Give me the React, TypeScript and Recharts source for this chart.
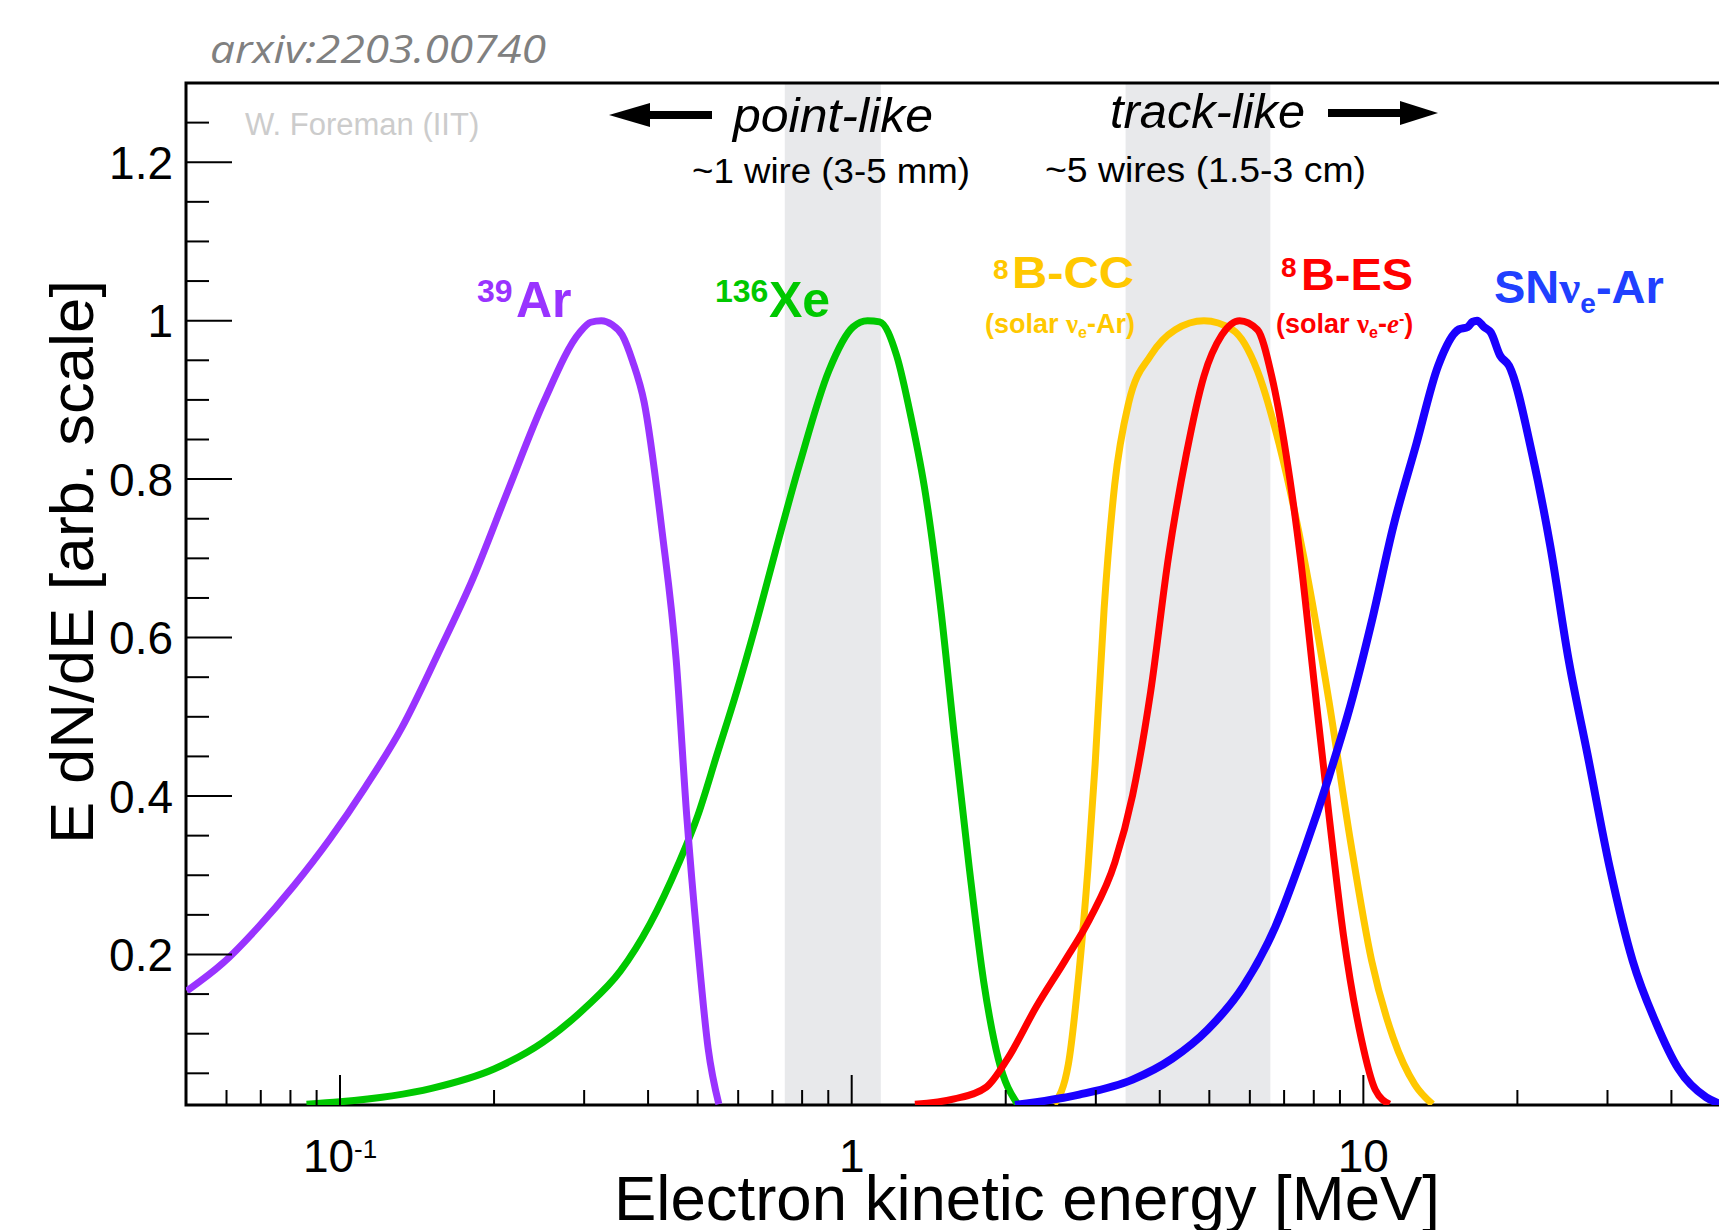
import React from "react";
import { LineChart, Line, XAxis, YAxis, ReferenceArea } from "recharts";

const FONT = "'Liberation Sans', Arial, Helvetica, sans-serif";
const W = 1719;
const H = 1230;
const PLOT_LEFT = 186;
const PLOT_BOTTOM = 1105;

// 39Ar beta spectrum
const arEnergy = [0.0502, 0.059, 0.0693, 0.0813, 0.0956, 0.112, 0.132, 0.155, 0.182, 0.213, 0.25, 0.294, 0.309, 0.324, 0.34, 0.356, 0.373, 0.393, 0.426, 0.454, 0.476, 0.5, 0.524, 0.55];
const arValue = [0.154, 0.189, 0.235, 0.287, 0.346, 0.411, 0.486, 0.578, 0.675, 0.786, 0.897, 0.985, 0.998, 1.0, 0.995, 0.982, 0.949, 0.897, 0.734, 0.571, 0.375, 0.212, 0.082, 0.011];

// 136Xe
const xeEnergy = [0.086, 0.1, 0.151, 0.2, 0.249, 0.303, 0.353, 0.403, 0.459, 0.5, 0.546, 0.596, 0.65, 0.709, 0.791, 0.902, 1.006, 1.074, 1.134, 1.224, 1.306, 1.395, 1.489, 1.589, 1.697, 1.811, 1.934, 2.11];
const xeValue = [0.011, 0.014, 0.031, 0.0555, 0.089, 0.134, 0.179, 0.238, 0.315, 0.375, 0.4535, 0.532, 0.617, 0.708, 0.819, 0.9365, 0.992, 1.0, 0.9985, 0.956, 0.878, 0.78, 0.643, 0.473, 0.31, 0.166, 0.0685, 0.011];

// 8B elastic scattering
const esEnergy = [1.329, 1.586, 1.833, 2.017, 2.295, 2.61, 2.92, 3.27, 3.54, 3.84, 4.16, 4.51, 4.88, 5.29, 5.73, 6.21, 6.62, 7.06, 7.53, 8.03, 8.57, 9.14, 9.9, 10.55, 11.25];
const esValue = [0.011, 0.0176, 0.0326, 0.0685, 0.134, 0.192, 0.245, 0.3165, 0.401, 0.532, 0.7015, 0.832, 0.93, 0.982, 1.0, 0.9886, 0.93, 0.832, 0.7015, 0.538, 0.375, 0.225, 0.0946, 0.0293, 0.011];

// 8B charged current
const ccEnergy = [2.487, 2.652, 2.783, 2.897, 2.991, 3.114, 3.266, 3.48, 3.84, 4.29, 4.88, 5.55, 6.21, 6.84, 7.65, 8.57, 9.44, 10.38, 11.44, 12.6, 13.65];
const ccValue = [0.011, 0.062, 0.179, 0.31, 0.4405, 0.636, 0.793, 0.897, 0.956, 0.9886, 1.0, 0.9886, 0.9365, 0.845, 0.7015, 0.519, 0.3425, 0.192, 0.0946, 0.036, 0.011];

// supernova nu_e - Ar
const snEnergy = [2.085, 2.783, 3.54, 4.23, 4.96, 5.83, 6.73, 7.65, 8.57, 9.44, 10.38, 11.44, 12.7, 14.0, 15.37, 16.0, 16.35, 16.68, 17.21, 17.75, 18.5, 19.27, 21.37, 23.2, 25.2, 27.4, 30.3, 33.6, 37.3, 41.3, 46.8, 50];
const snValue = [0.01, 0.023, 0.042, 0.0685, 0.105, 0.16, 0.235, 0.33, 0.425, 0.515, 0.62, 0.74, 0.845, 0.943, 0.989, 0.992, 0.9985, 1.0, 0.992, 0.985, 0.956, 0.943, 0.832, 0.715, 0.571, 0.4535, 0.31, 0.192, 0.114, 0.0555, 0.0196, 0.011];

// shaded regions (MeV)
const pointBand = [0.74, 1.14];
const trackBand = [3.43, 6.58];

const xTicks = [0.06, 0.07, 0.08, 0.09, 0.1, 0.2, 0.3, 0.4, 0.5, 0.6, 0.7, 0.8, 0.9, 1, 2, 3, 4, 5, 6, 7, 8, 9, 10, 20, 30, 40];
const xMajor = [0.1, 1, 10];
const yTicks = [0.05, 0.1, 0.15, 0.2, 0.25, 0.3, 0.35, 0.4, 0.45, 0.5, 0.55, 0.6, 0.65, 0.7, 0.75, 0.8, 0.85, 0.9, 0.95, 1, 1.05, 1.1, 1.15, 1.2, 1.25];
const yMajorLabels: Record<string, string> = { "0.2": "0.2", "0.4": "0.4", "0.6": "0.6", "0.8": "0.8", "1": "1", "1.2": "1.2" };

const toPoints = (es: number[], vs: number[]) => es.map((e, i) => ({ e, v: vs[i] }));

const XTick = (props: any) => {
  const { x, payload } = props;
  const v = payload.value;
  const major = xMajor.includes(v);
  return (
    <g>
      <line x1={x} x2={x} y1={PLOT_BOTTOM} y2={PLOT_BOTTOM - (major ? 30 : 15)} stroke="#000" strokeWidth={2} />
      {major && v === 0.1 && (
        <text x={x} y={1172} textAnchor="middle" fontFamily={FONT} fontSize={46} fill="#000">
          10<tspan dy={-14} fontSize={26}>-1</tspan>
        </text>
      )}
      {major && v !== 0.1 && (
        <text x={x} y={1172} textAnchor="middle" fontFamily={FONT} fontSize={46} fill="#000">
          {String(v)}
        </text>
      )}
    </g>
  );
};

const YTick = (props: any) => {
  const { y, payload } = props;
  const label = yMajorLabels[String(payload.value)];
  return (
    <g>
      <line x1={PLOT_LEFT} x2={PLOT_LEFT + (label ? 46 : 23)} y1={y} y2={y} stroke="#000" strokeWidth={2} />
      {label && (
        <text x={173} y={y + 16.5} textAnchor="end" fontFamily={FONT} fontSize={46} fill="#000">
          {label}
        </text>
      )}
    </g>
  );
};

export default function App() {
  const ar = toPoints(arEnergy, arValue);
  const xe = toPoints(xeEnergy, xeValue);
  const es = toPoints(esEnergy, esValue);
  const cc = toPoints(ccEnergy, ccValue);
  const sn = toPoints(snEnergy, snValue);

  return (
    <div style={{ position: "absolute", left: 0, top: 0, width: W, height: H, overflow: "hidden", background: "#fff" }}>
      <LineChart width={1730} height={H} margin={{ top: 83, right: 9, bottom: 65, left: 126 }}>
        <XAxis
          type="number"
          dataKey="e"
          scale="log"
          domain={[0.05, 50]}
          allowDataOverflow
          ticks={xTicks}
          interval={0}
          tick={<XTick />}
          tickLine={false}
          axisLine={false}
          height={60}
        />
        <YAxis
          type="number"
          domain={[0.01, 1.3]}
          allowDataOverflow
          ticks={yTicks}
          interval={0}
          tick={<YTick />}
          tickLine={false}
          axisLine={false}
          width={60}
        />
        <ReferenceArea x1={pointBand[0]} x2={pointBand[1]} y1={0.01} y2={1.3} fill="#e8e9eb" fillOpacity={1} stroke="none" />
        <ReferenceArea x1={trackBand[0]} x2={trackBand[1]} y1={0.01} y2={1.3} fill="#e8e9eb" fillOpacity={1} stroke="none" />
        <Line data={xe} dataKey="v" type="monotone" stroke="#00c800" strokeWidth={7} dot={false} isAnimationActive={false} />
        <Line data={ar} dataKey="v" type="monotone" stroke="#9933ff" strokeWidth={7} dot={false} isAnimationActive={false} />
        <Line data={cc} dataKey="v" type="monotone" stroke="#ffc800" strokeWidth={7} dot={false} isAnimationActive={false} />
        <Line data={es} dataKey="v" type="monotone" stroke="#ff0000" strokeWidth={7} dot={false} isAnimationActive={false} />
        <Line data={sn} dataKey="v" type="monotone" stroke="#1a00ff" strokeWidth={8} dot={false} isAnimationActive={false} />
        <ReferenceArea x1={0.05} x2={50} y1={0.01} y2={1.3} fill="none" stroke="#000" strokeWidth={3} ifOverflow="visible" />
      </LineChart>

      <svg width={W} height={H} style={{ position: "absolute", left: 0, top: 0, pointerEvents: "none" }}>
        <text x={210} y={63} fontFamily="'Open Sans', sans-serif" fontStyle="italic" fontSize={38} fill="#808080" textLength={336} lengthAdjust="spacingAndGlyphs">
          arxiv:2203.00740
        </text>
        <text x={245} y={135} fontFamily={FONT} fontSize={31} fill="#cccccc">W. Foreman (IIT)</text>

        {/* point-like / track-like annotations */}
        <polygon points="609,115 650,103 650,127" fill="#000" />
        <rect x={648} y={111} width={64} height={8} fill="#000" />
        <text x={733} y={132} fontFamily={FONT} fontStyle="italic" fontSize={48} fill="#000" textLength={200} lengthAdjust="spacingAndGlyphs">point-like</text>
        <text x={692} y={183} fontFamily={FONT} fontSize={35} fill="#000" textLength={278} lengthAdjust="spacingAndGlyphs">~1 wire (3-5 mm)</text>
        <text x={1110} y={128} fontFamily={FONT} fontStyle="italic" fontSize={48} fill="#000" textLength={195} lengthAdjust="spacingAndGlyphs">track-like</text>
        <rect x={1328} y={109} width={76} height={8} fill="#000" />
        <polygon points="1438,113 1400,101 1400,125" fill="#000" />
        <text x={1045} y={182} fontFamily={FONT} fontSize={35} fill="#000" textLength={321} lengthAdjust="spacingAndGlyphs">~5 wires (1.5-3 cm)</text>

        {/* series labels */}
        <text x={477} y={302} fontFamily={FONT} fontWeight="bold" fontSize={32} fill="#9933ff">39</text>
        <text x={516} y={317} fontFamily={FONT} fontWeight="bold" fontSize={50} fill="#9933ff">Ar</text>
        <text x={715} y={302} fontFamily={FONT} fontWeight="bold" fontSize={32} fill="#00c800">136</text>
        <text x={769} y={317} fontFamily={FONT} fontWeight="bold" fontSize={50} fill="#00c800">Xe</text>

        <text x={993} y={279} fontFamily={FONT} fontWeight="bold" fontSize={28} fill="#ffc800">8</text>
        <text x={1012} y={288} fontFamily={FONT} fontWeight="bold" fontSize={45} fill="#ffc800" textLength={122} lengthAdjust="spacingAndGlyphs">B-CC</text>
        <text x={985} y={333} fontFamily={FONT} fontWeight="bold" fontSize={27} fill="#ffc800">
          (solar <tspan fontFamily="'Liberation Serif', serif">ν</tspan>
          <tspan fontSize={16} dy={5}>e</tspan>
          <tspan dy={-5}>-Ar)</tspan>
        </text>

        <text x={1281} y={277} fontFamily={FONT} fontWeight="bold" fontSize={28} fill="#ff0000">8</text>
        <text x={1301} y={290} fontFamily={FONT} fontWeight="bold" fontSize={45} fill="#ff0000" textLength={112} lengthAdjust="spacingAndGlyphs">B-ES</text>
        <text x={1276} y={333} fontFamily={FONT} fontWeight="bold" fontSize={27} fill="#ff0000">
          (solar <tspan fontFamily="'Liberation Serif', serif">ν</tspan>
          <tspan fontSize={16} dy={5}>e</tspan>
          <tspan dy={-5}>-</tspan>
          <tspan fontFamily="'Liberation Serif', serif" fontStyle="italic">e</tspan>
          <tspan fontSize={16} dy={-9}>-</tspan>
          <tspan dy={9}>)</tspan>
        </text>

        <text x={1494} y={303} fontFamily={FONT} fontWeight="bold" fontSize={47} fill="#2040ff">
          SN<tspan fontFamily="'Liberation Serif', serif">ν</tspan>
          <tspan fontSize={28} dy={10}>e</tspan>
          <tspan dy={-10}>-Ar</tspan>
        </text>

        {/* axis titles */}
        <text x={614} y={1220} fontFamily={FONT} fontSize={63} fill="#000" textLength={826} lengthAdjust="spacingAndGlyphs">
          Electron kinetic energy [MeV]
        </text>
        <text
          x={0}
          y={0}
          transform="translate(93,562) rotate(-90)"
          textAnchor="middle"
          fontFamily={FONT}
          fontSize={62}
          fill="#000"
          textLength={564}
          lengthAdjust="spacingAndGlyphs"
        >
          E dN/dE [arb. scale]
        </text>
      </svg>
    </div>
  );
}
